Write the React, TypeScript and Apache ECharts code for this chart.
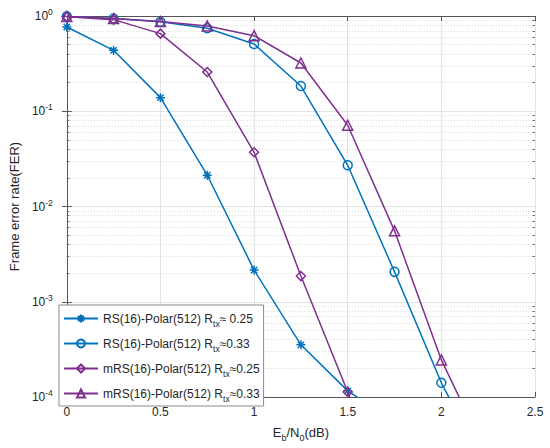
import React, { useEffect, useRef } from "react";
import * as echarts from "echarts";

const BLUE = "#0072BD";
const PURPLE = "#7E2F8E";
const FONT = "Liberation Sans, Arial, Helvetica, sans-serif";

const xValues = [0, 0.25, 0.5, 0.75, 1, 1.25, 1.5, 1.75, 2, 2.25];

const rs025 = [0.767, 0.436, 0.139, 0.0213, 0.00215, 3.53e-4, 1.16e-4, 5.5e-5];
const rs033 = [0.99, 0.94, 0.87, 0.743, 0.508, 0.184, 0.0271, 0.00206, 1.41e-4, 1.6e-5];
const mrs025 = [0.98, 0.916, 0.653, 0.258, 0.0371, 0.00186, 1.13e-4, 8e-6];
const mrs033 = [0.99, 0.94, 0.873, 0.785, 0.622, 0.321, 0.0713, 0.00555, 2.45e-4, 2.3e-5];

const seriesNames = [
  "RS(16)-Polar(512) Rtx≈ 0.25",
  "RS(16)-Polar(512) Rtx≈0.33",
  "mRS(16)-Polar(512) Rtx≈0.25",
  "mRS(16)-Polar(512) Rtx≈0.33",
];
const legendLabels = [
  "RS(16)-Polar(512) R{sub|tx}≈ 0.25",
  "RS(16)-Polar(512) R{sub|tx}≈0.33",
  "mRS(16)-Polar(512) R{sub|tx}≈0.25",
  "mRS(16)-Polar(512) R{sub|tx}≈0.33",
];

const X_MIN = 0;
const X_MAX = 2.5;
const Y_MIN = 1e-4;
const Y_MAX = 1;

const STAR =
  "path://M5,0L5,10M0,5L10,5M1.5,1.5L8.5,8.5M1.5,8.5L8.5,1.5";

function pairs(ys: number[]) {
  return ys.map((y, i) => [xValues[i], y]);
}

function minorValues() {
  const out: number[] = [];
  for (let e = -4; e < 0; e++) {
    for (let m = 2; m <= 9; m++) out.push(m * Math.pow(10, e));
  }
  return out;
}

export default function App() {
  const ref = useRef<HTMLDivElement>(null);
  useEffect(() => {
    if (!ref.current) return;
    const chart = echarts.init(ref.current, undefined, { renderer: "svg" });
    const minors = minorValues();
    const tickLenX = 0.014;
    const minorLines: any[] = [];
    minors.forEach((v) => {
      minorLines.push([
        { coord: [X_MIN, v], lineStyle: { color: "#cfcfcf", type: [1, 2], width: 0.8 } },
        { coord: [X_MAX, v] },
      ]);
      minorLines.push([
        { coord: [X_MIN, v], lineStyle: { color: "#555", type: "solid", width: 0.8 } },
        { coord: [X_MIN + tickLenX, v] },
      ]);
      minorLines.push([
        { coord: [X_MAX - tickLenX, v], lineStyle: { color: "#555", type: "solid", width: 0.8 } },
        { coord: [X_MAX, v] },
      ]);
    });

    const mk = (
      idx: number,
      data: number[],
      color: string,
      symbol: string,
      size: number,
      extra: any = {}
    ) => ({
      name: seriesNames[idx],
      type: "line",
      data: pairs(data),
      xAxisIndex: 0,
      yAxisIndex: 0,
      clip: true,
      symbol,
      symbolSize: size,
      showAllSymbol: true,
      z: 3 + idx,
      lineStyle: { color, width: 1.5 },
      itemStyle: { color: "rgba(255,255,255,0)", borderColor: color, borderWidth: 1.5 },
      emphasis: { disabled: true },
      ...extra,
    });

    const axisLine = { show: true, lineStyle: { color: "#555", width: 1 } };
    const tickStyle = { show: true, inside: true, length: 5, lineStyle: { color: "#555" } };

    chart.setOption({
      animation: false,
      backgroundColor: "#fff",
      textStyle: { fontFamily: FONT },
      grid: { left: 54, right: 15, top: 16, bottom: 51, containLabel: false },
      legend: {
        data: seriesNames,
        orient: "vertical",
        left: 59,
        top: 305,
        padding: [4, 4, 3, 4],
        itemGap: 6,
        itemWidth: 34,
        itemHeight: 10,
        backgroundColor: "#fff",
        borderColor: "#8a8a8a",
        borderWidth: 1,
        borderRadius: 0,
        selectedMode: false,
        formatter: (name: string) => legendLabels[seriesNames.indexOf(name)],
        textStyle: {
          fontFamily: FONT,
          fontSize: 12,
          color: "#262626",
          lineHeight: 14,
          rich: {
            sub: { fontSize: 8.5, fontFamily: FONT, color: "#262626", padding: [10, 0, 0, 0], lineHeight: 5 },
          },
        },
      },
      xAxis: [
        {
          type: "value",
          min: X_MIN,
          max: X_MAX,
          interval: 0.5,
          position: "bottom",
          axisLine,
          axisTick: tickStyle,
          axisLabel: {
            color: "#262626",
            fontSize: 12,
            margin: 9,
            fontFamily: FONT,
            formatter: (v: number) => String(v),
          },
          splitLine: { show: true, lineStyle: { color: "#e3e3e3", width: 1 } },
          name: "E{sub|b}/N{sub|0}(dB)",
          nameLocation: "middle",
          nameGap: 26,
          nameTextStyle: {
            fontSize: 13,
            color: "#262626",
            fontFamily: FONT,
            lineHeight: 15,
            rich: {
              sub: { fontSize: 9, fontFamily: FONT, color: "#262626", padding: [11, 0, 0, 0], lineHeight: 5 },
            },
          },
        },
        {
          type: "value",
          min: X_MIN,
          max: X_MAX,
          interval: 0.5,
          position: "top",
          axisLine,
          axisTick: tickStyle,
          axisLabel: { show: false },
          splitLine: { show: false },
        },
      ],
      yAxis: [
        {
          type: "log",
          logBase: 10,
          min: Y_MIN,
          max: Y_MAX,
          position: "left",
          axisLine,
          axisTick: tickStyle,
          axisLabel: {
            color: "#262626",
            fontSize: 12,
            margin: 14,
            fontFamily: FONT,
            formatter: (v: number) => "10{sup|" + Math.round(Math.log10(v)) + "}",
            rich: {
              sup: { fontSize: 8.5, fontFamily: FONT, color: "#262626", padding: [0, 0, 8, 0], lineHeight: 9 },
            },
          },
          splitLine: { show: true, lineStyle: { color: "#e3e3e3", width: 1 } },
          name: "Frame error rate(FER)",
          nameLocation: "middle",
          nameGap: 34,
          nameTextStyle: { fontSize: 13, color: "#262626", fontFamily: FONT },
        },
        {
          type: "log",
          logBase: 10,
          min: Y_MIN,
          max: Y_MAX,
          position: "right",
          axisLine,
          axisTick: tickStyle,
          axisLabel: { show: false },
          splitLine: { show: false },
        },
      ],
      series: [
        mk(0, rs025, BLUE, STAR, 9, {
          markLine: {
            silent: true,
            symbol: "none",
            label: { show: false },
            animation: false,
            z: 1,
            data: minorLines,
          },
        }),
        mk(1, rs033, BLUE, "circle", 9),
        mk(2, mrs025, PURPLE, "diamond", 9),
        mk(3, mrs033, PURPLE, "triangle", 10),
      ],
    });
    return () => chart.dispose();
  }, []);
  return (
    <div
      ref={ref}
      style={{ position: "fixed", left: 0, top: 0, width: 550, height: 448 }}
    />
  );
}
